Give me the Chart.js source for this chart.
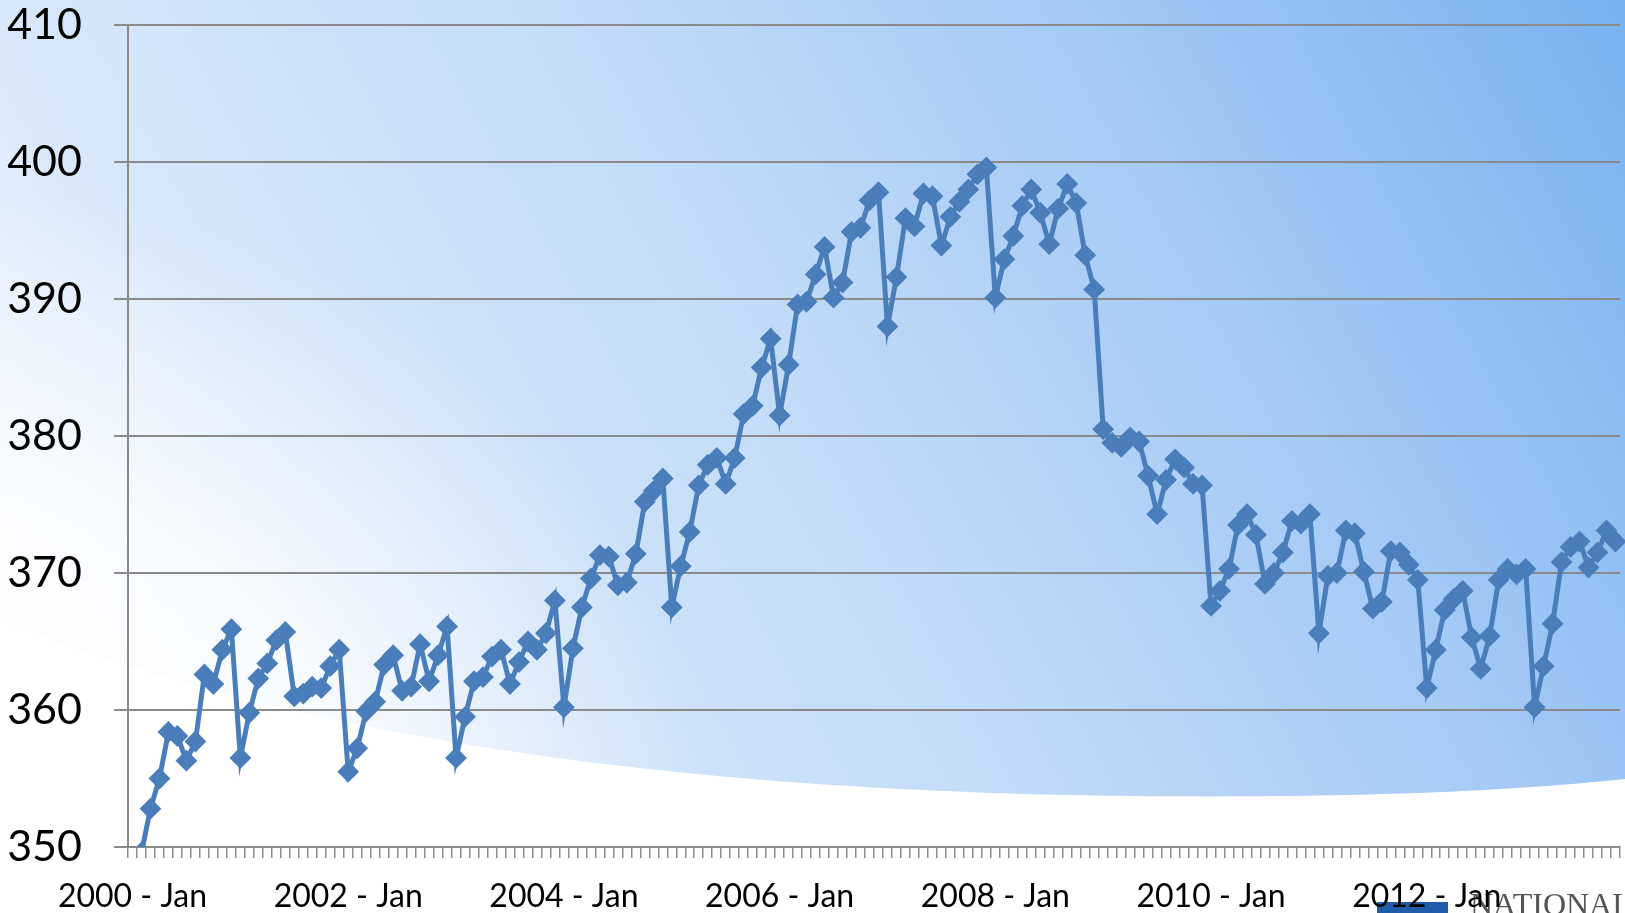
<!DOCTYPE html>
<html>
<head>
<meta charset="utf-8">
<script src="https://cdn.jsdelivr.net/npm/chart.js@4.4.0/dist/chart.umd.min.js"></script>
<style>
  html, body { margin: 0; padding: 0; overflow: hidden; background: #fff; }
  #wrap { position: relative; width: 1625px; height: 913px; }
</style>
</head>
<body>
<div id="wrap"><canvas id="myChart" width="1625" height="913"></canvas></div>
<script>
// monthly values, one array per year (2013 stops in Oct)
const v2000 = [347.2, 349.6, 352.8, 355.0, 358.4, 358.1, 356.3, 357.7, 362.6, 361.9, 364.4, 365.9];
const v2001 = [356.5, 359.8, 362.3, 363.4, 365.1, 365.7, 361.0, 361.2, 361.7, 361.6, 363.2, 364.4];
const v2002 = [355.5, 357.2, 359.9, 360.6, 363.3, 364.0, 361.4, 361.7, 364.8, 362.1, 364.0, 366.1];
const v2003 = [356.5, 359.5, 362.1, 362.4, 363.9, 364.4, 361.9, 363.5, 365.0, 364.4, 365.6, 368.0];
const v2004 = [360.2, 364.5, 367.5, 369.6, 371.3, 371.2, 369.1, 369.3, 371.4, 375.2, 376.0, 376.9];
const v2005 = [367.5, 370.5, 373.0, 376.4, 377.9, 378.4, 376.5, 378.4, 381.6, 382.2, 385.0, 387.1];
const v2006 = [381.5, 385.2, 389.6, 389.8, 391.8, 393.8, 390.1, 391.2, 394.9, 395.2, 397.2, 397.8];
const v2007 = [388.0, 391.6, 395.9, 395.3, 397.7, 397.5, 393.9, 396.0, 397.1, 398.0, 399.1, 399.6];
const v2008 = [390.1, 392.9, 394.6, 396.8, 398.0, 396.3, 394.0, 396.6, 398.4, 397.0, 393.2, 390.7];
const v2009 = [380.5, 379.5, 379.2, 379.9, 379.6, 377.1, 374.3, 376.8, 378.3, 377.7, 376.5, 376.4];
const v2010 = [367.6, 368.7, 370.3, 373.5, 374.3, 372.8, 369.2, 370.0, 371.5, 373.8, 373.6, 374.3];
const v2011 = [365.6, 369.8, 370.0, 373.1, 372.9, 370.1, 367.4, 367.9, 371.6, 371.5, 370.6, 369.5];
const v2012 = [361.6, 364.4, 367.3, 368.1, 368.7, 365.3, 363.0, 365.4, 369.5, 370.3, 369.9, 370.3];
const v2013 = [360.2, 363.2, 366.3, 370.8, 371.9, 372.3, 370.4, 371.5, 373.1, 372.3];

const years = [2000, 2001, 2002, 2003, 2004, 2005, 2006, 2007, 2008, 2009, 2010, 2011, 2012, 2013];
const months = ['Jan', 'Feb', 'Mar', 'Apr', 'May', 'Jun', 'Jul', 'Aug', 'Sep', 'Oct', 'Nov', 'Dec'];
const tickLabels = ['2000 - Jan', '2002 - Jan', '2004 - Jan', '2006 - Jan', '2008 - Jan', '2010 - Jan', '2012 - Jan'];
const yTicks = [350, 360, 370, 380, 390, 400, 410];

const values = [].concat(v2000, v2001, v2002, v2003, v2004, v2005, v2006,
  v2007, v2008, v2009, v2010, v2011, v2012, v2013);

let categories = [];
years.forEach((y) => {
  months.forEach((m) => {
    if (categories.length < values.length) categories.push(y + ' - ' + m);
  });
});

const gridGrey = '#8a8a8a';
const lineBlue = '#4a7ebb';

// slide background: blue gradient, white glow + swoosh, logo corner
const slideBackground = {
  id: 'slideBackground',
  beforeDraw(chart) {
    const ctx = chart.ctx;
    const w = chart.width, h = chart.height;
    ctx.save();
    const g = ctx.createLinearGradient(0, h, w, 0);
    g.addColorStop(0, '#ffffff');
    g.addColorStop(0.1, '#eef5fd');
    g.addColorStop(0.25, '#d6e7fa');
    g.addColorStop(0.5, '#c3dcf8');
    g.addColorStop(0.75, '#a3c9f5');
    g.addColorStop(1, '#78b2f0');
    ctx.fillStyle = g;
    ctx.fillRect(0, 0, w, h);

    const rg = ctx.createRadialGradient(0, h, 0, 0, h, 720);
    rg.addColorStop(0, 'rgba(255,255,255,1)');
    rg.addColorStop(0.55, 'rgba(255,255,255,0.75)');
    rg.addColorStop(1, 'rgba(255,255,255,0)');
    ctx.fillStyle = rg;
    ctx.fillRect(0, 0, w, h);

    ctx.beginPath();
    ctx.moveTo(0, 620);
    ctx.bezierCurveTo(250, 720, 600, 790, 1130, 796);
    ctx.bezierCurveTo(1350, 798, 1500, 792, w, 779);
    ctx.lineTo(w, h);
    ctx.lineTo(0, h);
    ctx.closePath();
    ctx.fillStyle = '#ffffff';
    ctx.fill();

    ctx.fillStyle = '#1f5caa';
    ctx.fillRect(1377, 902, 71, 11);
    ctx.font = '32px "Liberation Serif"';
    ctx.fillStyle = '#555555';
    ctx.textBaseline = 'alphabetic';
    ctx.fillText('NATIONAL', 1470, 915);
    ctx.restore();
  }
};

const ctx = document.getElementById('myChart');

const linechart = new Chart(ctx, {
  type: 'line',
  data: {
    labels: categories,
    datasets: [{
      data: values,
      borderColor: lineBlue,
      backgroundColor: lineBlue,
      borderWidth: 5,
      tension: 0,
      pointStyle: 'rectRot',
      pointRadius: 9.5,
      pointBorderWidth: 2,
      pointBackgroundColor: lineBlue,
      pointBorderColor: lineBlue,
      clip: { left: 0, top: false, right: false, bottom: 0 }
    }]
  },
  options: {
    responsive: false,
    animation: false,
    layout: { autoPadding: false, padding: { left: 0, right: 5, top: 25, bottom: 0 } },
    plugins: {
      legend: { display: false },
      tooltip: { enabled: false }
    },
    scales: {
      x: {
        offset: true,
        grid: {
          offset: true,
          drawOnChartArea: false,
          drawTicks: true,
          tickLength: 11,
          color: gridGrey,
          lineWidth: 1.5
        },
        border: { color: gridGrey, width: 2 },
        ticks: {
          autoSkip: false,
          maxRotation: 0,
          padding: 19,
          color: '#000',
          font: { family: 'Lato', size: 32 },
          callback: (val, i) => (i % 24 === 0 ? tickLabels[i / 24] : '')
        },
        afterFit: (scale) => {
          scale.height = 66;
          scale.paddingLeft = 0;
          scale.paddingRight = 0;
        }
      },
      y: {
        min: yTicks[0],
        max: yTicks[yTicks.length - 1],
        afterBuildTicks: (scale) => { scale.ticks = yTicks.map((v) => ({ value: v })); },
        grid: { color: gridGrey, lineWidth: 2, tickLength: 14 },
        border: { color: gridGrey, width: 2 },
        ticks: {
          padding: 32,
          color: '#000',
          font: { family: 'Lato', size: 43 }
        },
        afterFit: (scale) => {
          scale.width = 128;
          scale.paddingTop = 0;
          scale.paddingBottom = 0;
        }
      }
    }
  },
  plugins: [slideBackground]
});
</script>
</body>
</html>
